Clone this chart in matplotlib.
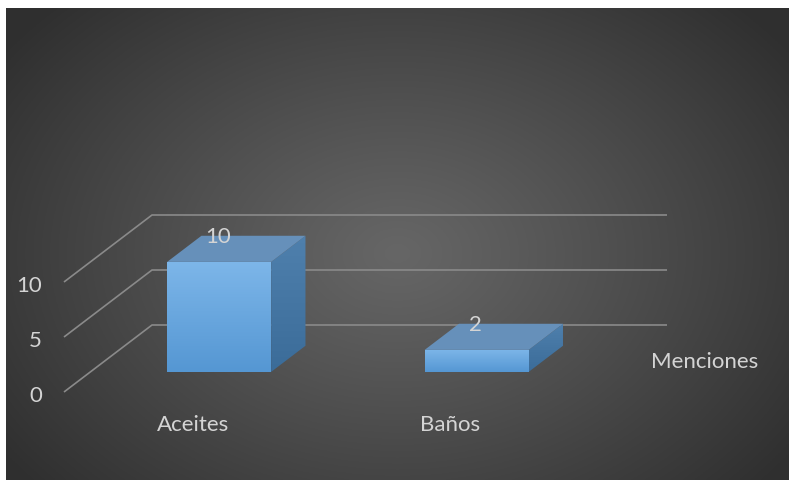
import numpy as np
import matplotlib.pyplot as plt
from matplotlib.patches import Polygon

# data
categories = ['Aceites', 'Baños']
menciones = [10, 2]
yticks = [0, 5, 10]
series_name = 'Menciones'

plt.rcParams['font.family'] = ['Lato', 'DejaVu Sans']
TXT = '#d4d4d4'
FS = 16

W, H = 789, 481
fig = plt.figure(figsize=(W / 100, H / 100), dpi=100, facecolor='white')

# dark radial background (chart area starts a few px in from the left/top)
bg = fig.add_axes([6 / W, 0, 1 - 6 / W, 1 - 9 / H])
yy, xx = np.mgrid[0:1:300j, 0:1:500j]
r = np.sqrt(((xx - 0.5) / 0.62) ** 2 + ((yy - 0.52) / 0.75) ** 2)
t = np.clip(r, 0, 1) ** 1.1
g = 0.40 * (1 - t) + 0.185 * t
bg.imshow(np.dstack([g, g, g]), extent=[0, 1, 0, 1], aspect='auto', origin='upper')
bg.axis('off')

# main axes: x = category, y = value, with a fake depth offset
ax = fig.add_axes([0, 0, 1, 1])
ax.patch.set_alpha(0)
XL = (-0.7485, 2.3155)
YL = (-8.0, 35.727)
DX = 88 / 257.5      # depth shift in category units
DY = 67 / 11         # depth shift in value units
HW = 0.202           # half bar width
D0, D1 = 0.30, 0.69  # bar front/back depth


def proj(x, v, d):
    return x + d * DX, v + d * DY


def grad_fill(verts, c_top, c_bot):
    poly = Polygon(verts, closed=True, facecolor='none', edgecolor='none')
    ax.add_patch(poly)
    xs = [p[0] for p in verts]
    ys = [p[1] for p in verts]
    n = 64
    c1 = np.array(plt.matplotlib.colors.to_rgb(c_top))
    c2 = np.array(plt.matplotlib.colors.to_rgb(c_bot))
    s = np.linspace(0, 1, n)[:, None]
    img = (c1 * (1 - s) + c2 * s)[:, None, :]
    im = ax.imshow(img, extent=[min(xs), max(xs), min(ys), max(ys)],
                   aspect='auto', origin='upper', zorder=3)
    im.set_clip_path(poly)


# gridlines: floor diagonal + back wall
n_cat = len(categories)
for tk in yticks:
    pts = [proj(-0.5, tk, 0), proj(-0.5, tk, 1), proj(n_cat - 0.5, tk, 1)]
    ax.plot([p[0] for p in pts], [p[1] for p in pts], color='#8a8a8a', lw=1.2,
            zorder=1, solid_capstyle='butt')
    ax.annotate(str(tk), xy=proj(-0.5, tk, 0), xytext=(-22, -3),
                textcoords='offset pixels', ha='right', va='center',
                color=TXT, fontsize=FS)

for i, v in enumerate(menciones):
    x0, x1 = i - HW, i + HW
    front = [proj(x0, 0, D0), proj(x1, 0, D0), proj(x1, v, D0), proj(x0, v, D0)]
    side = [proj(x1, 0, D0), proj(x1, 0, D1), proj(x1, v, D1), proj(x1, v, D0)]
    top = [proj(x0, v, D0), proj(x1, v, D0), proj(x1, v, D1), proj(x0, v, D1)]
    grad_fill(front, '#7db6e9', '#5597d3')
    grad_fill(side, '#4f80ad', '#3b6c99')
    ax.add_patch(Polygon(top, closed=True, facecolor='#6690ba',
                         edgecolor='none', zorder=3))
    ax.annotate(str(v), xy=proj(i, v, D0), xytext=(-1, 26),
                textcoords='offset pixels', ha='center', va='center',
                color=TXT, fontsize=FS, zorder=5)
    ax.annotate(categories[i], xy=proj(i, 0, 0), xytext=(0, -32),
                textcoords='offset pixels', ha='center', va='center',
                color=TXT, fontsize=FS)

ax.text(651 / W, 1 - 362 / H, series_name, transform=fig.transFigure,
        ha='left', va='center', color=TXT, fontsize=FS)

ax.set_xlim(*XL)
ax.set_ylim(*YL)
ax.axis('off')

fig.savefig('out.png', dpi=100, facecolor='white')
